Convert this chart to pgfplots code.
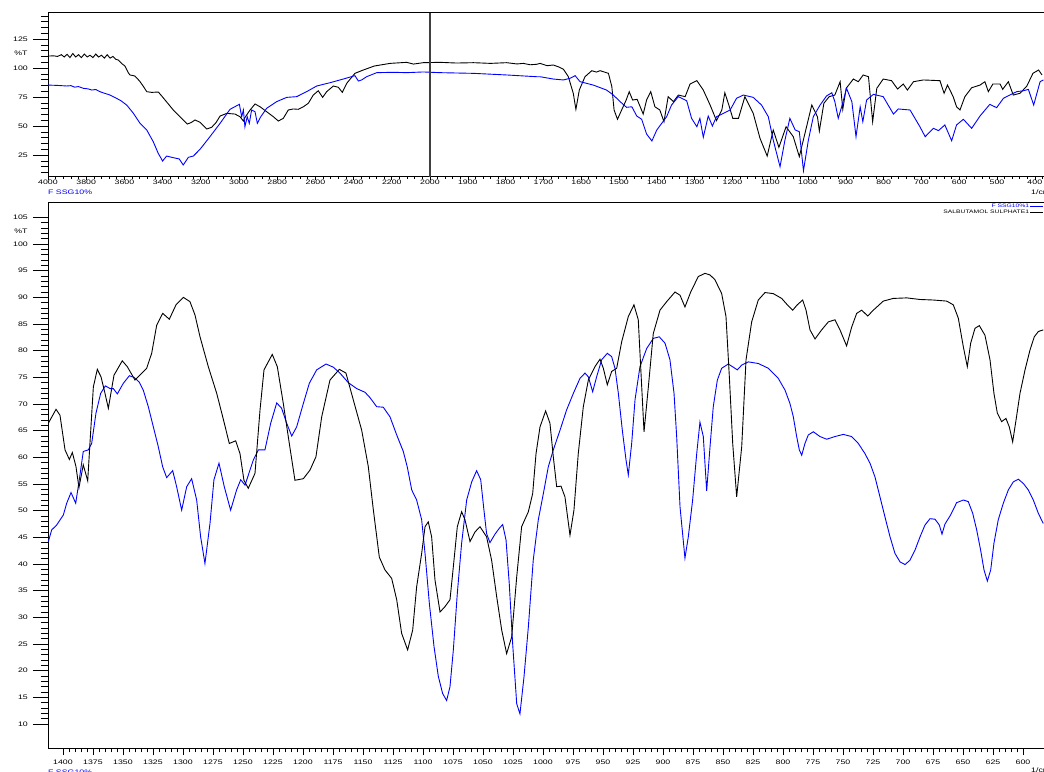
\documentclass[border=0pt]{standalone}
\usepackage{fontspec}
\setmainfont{Liberation Sans}[FakeStretch=1.35]
\usepackage{pgfplots}
\usepackage{pgfplotstable}
\pgfplotsset{compat=1.18}
\pgfplotstableread{
wn T
4000 110.3
3970 110.5
3950 110.0
3930 111.5
3915 109.5
3900 111.8
3885 109.0
3870 112.5
3855 109.5
3840 111.5
3825 109.0
3810 112.0
3795 109.5
3780 111.0
3765 109.0
3750 112.0
3735 109.5
3720 111.0
3705 108.5
3690 111.5
3675 108.5
3660 110.0
3645 107.5
3632 106.9
3615 104.0
3597 101.7
3580 96.0
3571 94.0
3555 93.5
3545 93.1
3530 90.5
3518 88.2
3500 84.0
3483 79.6
3457 79.0
3422 79.3
3387 72.4
3344 63.8
3292 55.2
3271 51.7
3250 53.0
3230 55.2
3204 53.2
3169 47.4
3143 48.9
3120 53.0
3099 58.6
3064 60.9
3021 60.3
2995 58.0
2985 56.0
2977 54.3
2970 57.0
2960 59.5
2942 63.8
2916 69.0
2890 66.6
2855 62.3
2820 58.0
2794 54.3
2768 56.6
2742 63.8
2716 64.7
2690 64.4
2663 66.6
2637 69.6
2611 76.7
2585 80.4
2562 74.7
2541 79.6
2506 84.5
2480 83.4
2459 79.0
2436 86.8
2393 95.4
2349 98.3
2292 101.7
2209 104.0
2122 104.9
2087 103.4
2035 104.6
1974 104.9
1930 104.3
1885 104.6
1840 104.0
1797 104.6
1770 103.5
1753 104.0
1735 102.8
1718 103.2
1709 104.0
1690 102.0
1674 102.6
1660 101.0
1647 98.9
1634 92.5
1621 78.2
1614 64.4
1605 81.0
1590 92.5
1572 97.7
1560 96.5
1550 97.7
1528 95.4
1519 84.0
1513 63.8
1504 55.8
1493 63.8
1481 72.4
1473 79.6
1464 72.4
1452 73.0
1436 60.3
1427 72.4
1416 79.6
1405 66.6
1392 63.8
1381 53.7
1370 75.3
1356 71.0
1343 76.7
1325 75.3
1312 86.2
1294 89.1
1277 81.0
1259 68.1
1242 54.6
1228 63.8
1220 78.7
1208 66.6
1199 56.6
1184 56.6
1167 75.3
1145 61.0
1127 39.4
1108 24.1
1092 46.6
1077 31.6
1058 49.4
1039 40.8
1023 23.6
1008 43.7
990 68.1
975 58.0
970 45.7
958 69.6
944 75.3
929 76.7
915 88.2
908 64.4
899 82.5
880 90.5
867 88.2
854 94.0
840 92.5
829 53.7
818 82.5
801 90.5
779 89.1
763 81.9
748 86.2
737 81.0
721 88.2
695 89.7
651 89.1
640 78.2
631 85.3
616 75.3
607 66.6
598 63.8
585 75.3
567 83.0
545 85.3
532 88.2
523 79.6
511 86.2
492 86.2
485 81.6
470 88.2
457 76.7
439 78.2
421 84.5
405 95.4
390 98.3
381 94.0
}\topblack
\pgfplotstableread{
wn T
4000 85.3
3950 85.0
3902 84.5
3880 84.8
3860 83.5
3840 84.0
3815 82.5
3790 82.0
3770 81.0
3750 81.5
3728 79.6
3700 78.0
3680 77.0
3658 75.3
3620 72.0
3588 68.1
3553 61.0
3518 52.3
3483 46.6
3449 36.5
3423 26.5
3400 19.8
3379 24.1
3344 22.7
3313 21.6
3292 16.4
3265 23.0
3239 24.1
3204 29.9
3152 40.8
3099 52.3
3047 64.4
2998 68.7
2986 58.0
2977 63.8
2969 49.4
2957 58.0
2946 52.3
2934 63.8
2916 62.3
2904 52.3
2886 58.0
2855 65.3
2803 71.0
2750 74.7
2698 75.3
2646 79.6
2593 84.5
2524 87.3
2454 90.5
2393 93.4
2375 88.8
2358 89.7
2332 92.5
2279 96.0
2192 96.3
2122 96.0
2035 96.6
1974 96.0
1885 95.4
1797 94.0
1718 92.5
1709 92.5
1674 90.5
1647 89.7
1630 91.1
1616 93.4
1603 88.2
1568 85.3
1533 81.0
1515 76.7
1497 71.0
1480 66.1
1466 66.6
1453 58.6
1440 55.8
1427 43.1
1413 37.1
1400 46.6
1387 52.3
1374 58.0
1361 68.1
1343 75.3
1321 71.8
1308 56.6
1294 49.4
1286 56.6
1277 40.3
1264 58.6
1253 50.0
1242 58.0
1224 60.9
1206 63.8
1189 73.9
1171 76.7
1145 74.7
1123 68.1
1105 58.0
1092 37.9
1074 14.9
1061 37.9
1048 56.6
1034 46.6
1023 45.1
1012 11.5
999 37.9
986 58.0
968 68.1
951 75.9
937 78.7
929 71.0
920 56.6
911 66.6
898 82.5
884 71.0
873 40.8
862 66.6
855 53.7
845 72.4
827 77.3
801 75.3
774 60.3
761 64.7
730 63.8
704 49.4
690 40.8
668 48.0
655 46.0
638 50.9
620 37.3
607 50.9
589 55.8
567 48.0
545 58.6
519 68.7
501 65.8
483 73.9
466 76.7
448 79.6
430 80.4
417 81.6
403 68.1
386 88.2
377 89.7
}\topblue
\pgfplotstableread{
wn T
1412.2 66.4
1405.8 69.0
1402.5 67.9
1398.3 61.4
1394.7 59.6
1392.2 60.9
1389.2 58.3
1386.7 54.3
1383.1 58.6
1379.4 55.6
1374.7 73.2
1371.4 76.5
1368.3 75.1
1365.0 72.0
1362.2 69.2
1357.5 75.4
1350.6 78.1
1346.4 77.0
1340.0 74.5
1330.3 76.7
1326.1 79.5
1321.9 84.8
1316.9 87.0
1311.4 85.9
1305.8 88.6
1299.7 90.0
1294.2 89.2
1290.0 86.7
1285.8 82.6
1278.9 77.0
1271.9 72.0
1266.9 67.6
1261.4 62.6
1256.1 63.1
1252.5 60.7
1249.2 55.7
1245.6 54.2
1240.0 57.0
1235.8 68.9
1232.5 76.4
1225.6 79.3
1221.4 77.0
1216.4 70.1
1211.4 62.6
1206.7 55.7
1199.7 56.0
1194.2 57.6
1189.2 60.1
1184.4 67.6
1177.5 74.5
1169.7 76.5
1164.2 75.8
1158.1 70.8
1151.1 65.1
1145.6 58.3
1141.4 50.2
1136.4 41.3
1131.7 38.9
1126.1 37.3
1121.9 33.3
1117.8 27.0
1112.8 23.9
1108.6 27.6
1105.3 35.7
1101.1 42.0
1098.3 47.0
1095.6 47.9
1092.8 45.1
1090.0 37.0
1085.8 31.0
1081.7 32.0
1077.5 33.3
1074.7 39.5
1071.4 47.0
1067.8 49.8
1065.0 48.3
1060.8 44.2
1056.7 46.0
1052.5 47.0
1047.0 45.1
1042.8 40.7
1038.6 33.9
1034.4 27.6
1030.3 23.2
1026.1 26.3
1021.9 37.6
1017.8 47.0
1012.2 49.8
1008.6 53.2
1005.8 60.7
1002.5 65.7
997.8 68.7
994.2 66.4
991.4 60.1
988.6 54.5
985.0 54.6
981.7 52.6
977.5 45.4
974.2 50.1
970.6 60.7
966.4 69.5
962.2 74.5
956.7 77.0
952.5 78.4
949.7 76.7
946.4 73.6
942.8 76.1
938.6 76.7
934.4 81.7
928.9 86.4
924.2 88.6
920.6 85.8
918.6 77.0
915.8 64.8
912.2 73.2
908.1 83.2
902.5 87.6
896.9 89.2
890.0 91.0
885.8 90.4
881.7 88.2
876.9 91.0
870.6 93.9
865.0 94.5
860.8 94.2
856.7 93.3
851.1 90.7
847.5 86.4
844.7 75.1
841.9 62.6
838.6 52.6
834.4 62.0
830.8 78.3
826.1 85.4
820.6 89.5
815.0 90.9
808.1 90.7
801.1 89.8
796.4 88.6
791.9 87.6
788.1 88.6
783.6 89.5
780.8 87.6
777.5 83.9
773.3 82.2
767.8 83.9
762.2 85.4
756.7 85.8
752.5 83.9
747.0 80.9
742.8 84.4
738.6 87.0
734.4 87.6
729.4 86.5
724.7 87.6
716.4 89.3
708.1 89.8
696.9 89.9
685.8 89.6
674.7 89.5
663.6 89.3
658.1 88.6
653.9 86.1
649.7 80.7
646.4 77.0
643.6 81.4
640.0 84.2
636.4 84.7
631.7 82.9
627.5 78.3
624.2 72.0
621.4 68.3
617.8 66.7
614.2 67.3
611.4 65.7
608.6 62.9
605.8 67.0
602.5 72.0
598.3 76.4
594.2 80.1
590.6 82.6
587.2 83.6
583.1 83.9
}\botblack
\pgfplotstableread{
wn T
1412.2 44.2
1409.4 46.4
1405.3 47.3
1399.7 49.2
1396.9 51.4
1393.3 53.4
1389.4 51.4
1386.4 55.8
1383.1 61.1
1378.9 61.4
1376.1 62.6
1372.5 68.3
1368.6 72.0
1364.7 73.4
1360.8 72.9
1358.1 72.9
1354.7 71.9
1349.7 73.9
1344.7 75.3
1340.8 75.0
1336.4 74.1
1333.1 72.6
1328.9 69.5
1324.7 65.7
1320.6 62.0
1316.9 58.2
1313.6 56.2
1308.6 57.5
1305.3 54.5
1301.1 50.1
1296.9 54.5
1292.8 56.0
1288.6 52.0
1285.3 45.1
1281.7 40.1
1277.5 47.6
1274.2 55.8
1270.0 58.9
1265.6 54.5
1260.3 50.1
1255.3 53.9
1251.9 55.8
1248.3 54.8
1241.4 59.5
1237.2 61.4
1231.7 61.4
1226.9 66.4
1221.9 70.2
1217.8 69.2
1213.6 66.4
1209.4 64.0
1205.3 65.7
1199.7 70.1
1194.7 73.9
1188.6 76.4
1180.8 77.5
1174.7 76.9
1169.2 75.8
1162.2 74.0
1155.3 72.9
1148.3 72.2
1144.2 71.2
1138.6 69.5
1133.1 69.4
1127.5 67.6
1121.9 64.2
1116.4 61.1
1113.1 58.2
1109.4 53.9
1105.3 52.0
1101.1 48.3
1098.3 42.0
1094.7 32.6
1090.8 24.5
1087.2 18.9
1083.6 15.7
1080.3 14.4
1077.5 17.0
1074.7 23.9
1071.4 34.5
1067.8 43.9
1063.6 52.0
1059.4 55.4
1055.3 57.5
1051.9 55.8
1049.2 50.1
1047.0 45.7
1044.2 44.0
1040.0 45.6
1036.4 46.7
1033.6 47.4
1030.8 44.5
1028.1 36.3
1025.3 25.1
1021.9 13.8
1019.2 11.9
1015.8 18.9
1012.2 28.2
1008.1 40.8
1003.9 48.3
999.7 53.2
995.6 58.2
991.4 61.4
985.8 65.1
980.3 68.9
974.7 72.0
969.2 74.8
965.0 75.8
962.2 75.1
958.6 72.3
955.3 75.1
951.1 78.3
946.4 79.5
942.8 78.9
940.0 76.7
937.2 72.0
933.9 65.1
930.8 59.5
928.9 56.7
926.1 62.6
923.3 70.8
919.2 77.0
913.6 80.4
908.1 82.3
903.1 82.6
898.3 81.4
894.2 78.3
890.8 72.0
888.6 63.9
885.8 50.7
881.7 41.1
878.9 45.1
875.3 52.0
871.9 60.7
869.2 66.6
866.4 63.9
863.6 53.7
860.8 62.0
858.1 69.5
854.7 74.5
851.1 76.7
845.6 77.5
841.4 76.9
838.1 76.4
834.4 77.3
828.9 77.9
820.6 77.6
812.2 76.7
803.9 74.8
798.3 72.6
794.2 70.1
791.4 67.6
788.6 63.9
786.4 61.4
784.4 60.4
781.7 62.6
778.9 64.2
774.7 64.8
769.2 63.9
763.6 63.4
756.7 63.9
749.7 64.3
742.8 63.9
737.2 62.6
731.7 60.7
727.5 58.9
723.3 56.3
719.2 52.6
715.0 48.8
710.8 45.1
706.7 42.0
702.5 40.4
698.3 39.9
694.2 40.7
690.0 42.6
685.8 45.1
681.7 47.3
677.5 48.5
673.3 48.4
669.7 47.3
667.5 45.6
665.0 47.5
660.3 49.2
655.3 51.5
649.7 52.0
645.6 51.7
641.9 49.5
638.6 46.4
635.3 42.6
632.5 38.9
629.7 36.8
626.9 38.9
624.2 43.9
620.6 48.3
616.4 51.4
612.2 53.9
608.1 55.4
603.9 55.9
599.7 55.1
595.6 53.9
591.4 52.0
587.2 49.5
583.1 47.6
}\botblue
\begin{document}
\begin{tikzpicture}
\pgfplotsset{
  myax/.style={
    scale only axis, x dir=reverse,
    tick align=outside, tick pos=left,
    axis line style={line width=0.8pt},
    tick style={black, line width=0.6pt},
    /pgf/number format/assume math mode=true,
    /pgf/number format/1000 sep={},
    ticklabel style={font=\fontsize{6.5}{7}\selectfont, inner sep=0pt},
    yticklabel style={xshift=-15.7pt},
    every axis plot/.append style={line width=0.9pt},
  }
}
% ---------- top panel ----------
\begin{axis}[myax, at={(48pt,594.3pt)}, anchor=south west,
  width=996pt, height=164pt,
  xmin=375.7, xmax=3010.6, ymin=6.3, ymax=147.7,
  xtick={400,500,600,700,800,900,1000,1100,1200,1300,1400,1500,1600,1700,1800,1900,2000,2101.06,2202.12,2303.18,2404.24,2505.30,2606.36,2707.42,2808.48,2909.54,3010.60},
  xticklabels={400,500,600,700,800,900,1000,1100,1200,1300,1400,1500,1600,1700,1800,1900,2000,2200,2400,2600,2800,3000,3200,3400,3600,3800,4000},
  minor xtick={380,400,...,2000,2020.212,2040.424,...,3010.6},
  ytick={25,50,75,100,125},
  minor ytick={5,10,...,145},
  every major x tick/.append style={/pgfplots/major tick length=3pt},
  every minor x tick/.append style={/pgfplots/minor tick length=2pt},
  every major y tick/.append style={/pgfplots/major tick length=15pt},
  every minor y tick/.append style={/pgfplots/minor tick length=7pt},
  xticklabel style={yshift=1pt},
]
\addplot[black, no markers] table[x expr={\thisrowno{0}>2000 ? 2000+(\thisrowno{0}-2000)*0.5053 : \thisrowno{0}}, y index=1] {\topblack};
\addplot[blue, no markers] table[x expr={\thisrowno{0}>2000 ? 2000+(\thisrowno{0}-2000)*0.5053 : \thisrowno{0}}, y index=1] {\topblue};
\addplot[black!75, line width=1.5pt, no markers] coordinates {(2000,6.3) (2000,147.7)};
\end{axis}
% ---------- bottom panel ----------
\begin{axis}[myax, at={(48pt,23pt)}, anchor=south west,
  width=996pt, height=545.3pt,
  xmin=582.5, xmax=1412.5, ymin=5.5, ymax=107.75,
  xtick={600,625,...,1400}, minor x tick num=4,
  ytick={10,15,...,105}, minor y tick num=4,
  every major x tick/.append style={/pgfplots/major tick length=7pt},
  every minor x tick/.append style={/pgfplots/minor tick length=4.5pt},
  every major y tick/.append style={/pgfplots/major tick length=15pt},
  every minor y tick/.append style={/pgfplots/minor tick length=7pt},
  xticklabel style={yshift=-7.5pt},
  legend style={at={(1,1)}, anchor=north east, draw=none, fill=none,
    font=\fontsize{5}{5}\selectfont, inner sep=0.5pt, row sep=0.6pt,
    nodes={inner sep=0.4pt}},
  legend cell align=right,
  legend plot pos=right,
  legend image code/.code={\draw[#1, line width=0.8pt] (0pt,0pt) -- (13pt,0pt);},
]
\addplot[blue, no markers] table[x index=0, y index=1] {\botblue};
\addlegendentry{\textcolor{blue}{F SSG10\%1}}
\addplot[black, no markers] table[x index=0, y index=1] {\botblack};
\addlegendentry{SALBUTAMOL SULPHATE1}
\end{axis}
% ---------- texts ----------
\node[font=\fontsize{6.5}{7}\selectfont, inner sep=0pt] at (21pt,718pt) {\%T};
\node[font=\fontsize{6.5}{7}\selectfont, inner sep=0pt] at (21pt,540pt) {\%T};
\node[font=\fontsize{6.5}{7}\selectfont, inner sep=0pt, anchor=west, text=blue] at (48pt,579pt) {F SSG10\%};
\node[font=\fontsize{6.5}{7}\selectfont, inner sep=0pt, anchor=west] at (1031pt,579pt) {1/cm};
\node[font=\fontsize{6.5}{7}\selectfont, inner sep=0pt, anchor=west, text=blue] at (48pt,-1pt) {F SSG10\%};
\node[font=\fontsize{6.5}{7}\selectfont, inner sep=0pt, anchor=west] at (1031pt,1pt) {1/cm};
\pgfresetboundingbox
\path[use as bounding box] (0pt,0pt) rectangle (1044pt,771pt);
\end{tikzpicture}
\end{document}
